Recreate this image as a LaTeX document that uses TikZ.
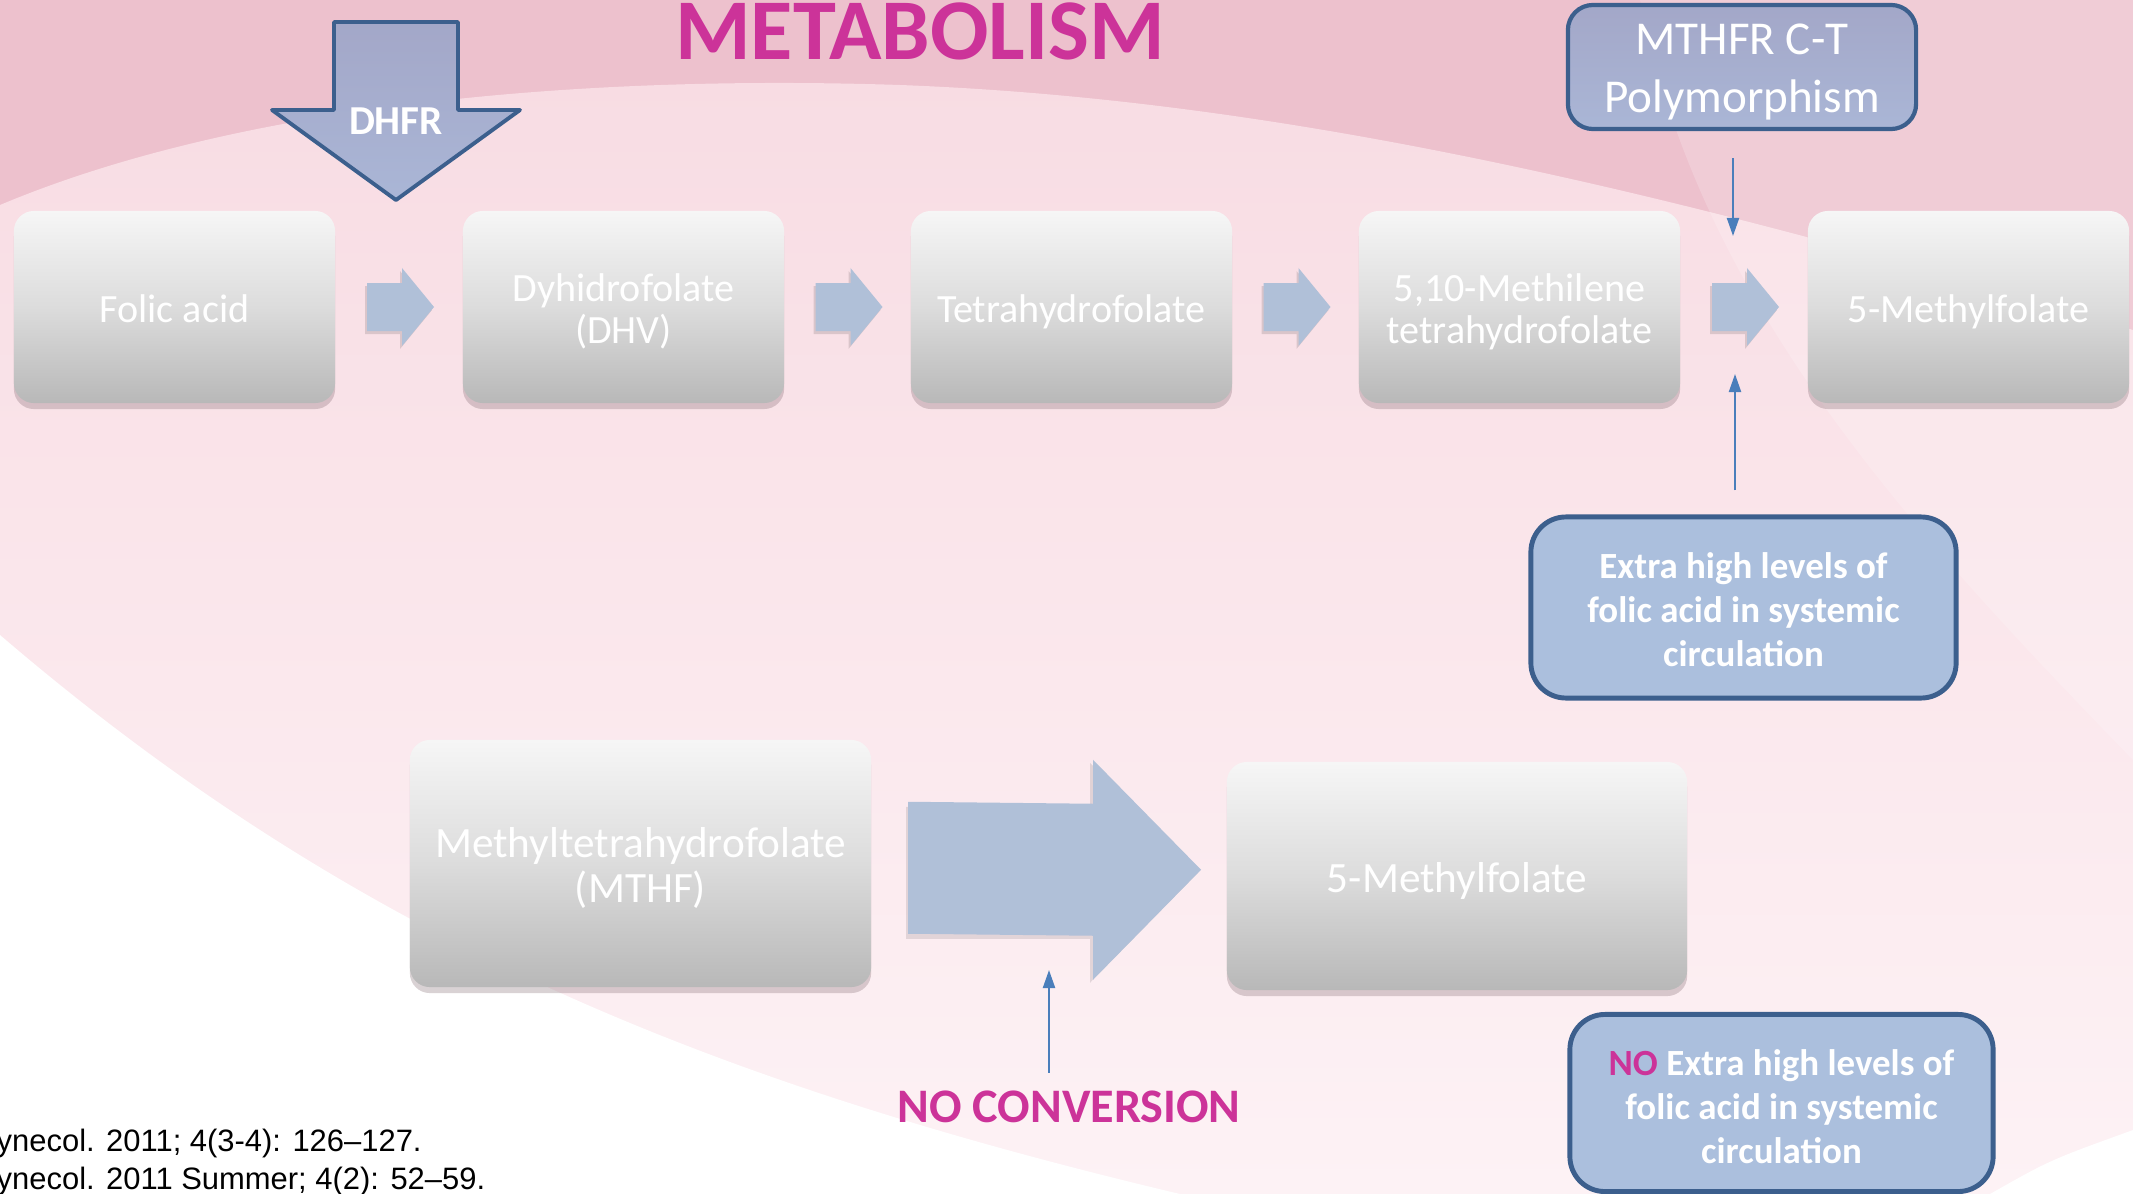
\documentclass[tikz,border=0pt]{standalone}
\usepackage{fontspec}
\setmainfont{Carlito}
\newfontfamily\arialf{Liberation Sans}
\usetikzlibrary{shadows,calc,arrows.meta}
\newcommand\tstr{\rule{0pt}{1.03\baselineskip}}
\newcommand\bstr{\rule[-0.3\baselineskip]{0pt}{0.3\baselineskip}}
\newcommand\sstr{\rule[-0.3\baselineskip]{0pt}{1.33\baselineskip}}
\definecolor{titlemag}{HTML}{CC3399}
\definecolor{pinkdark}{HTML}{EDC1CD}
\definecolor{pinkmid}{HTML}{F8DCE3}
\definecolor{pinklight}{HTML}{FDF2F5}
\definecolor{boxtop}{HTML}{F6F6F6}
\definecolor{boxmid}{HTML}{DCDCDC}
\definecolor{boxbot}{HTML}{B8B8B8}
\definecolor{arrfill}{HTML}{B0C0D8}
\definecolor{navy}{HTML}{3C5F8D}
\definecolor{lightblue}{HTML}{ABBFDD}
\definecolor{lavender}{HTML}{A3A7C8}
\definecolor{lavbot}{HTML}{AAB6D6}
\definecolor{linkblue}{HTML}{4A7EBB}
\tikzset{
  gbox/.style={rounded corners=0.2cm, top color=boxtop, bottom color=boxbot, middle color=boxmid,
    text=white, align=center, inner sep=0pt,
    drop shadow={shadow xshift=0cm, shadow yshift=-0.06cm, fill=black!45!pinkdark, opacity=0.3}},
  toptext/.style={font=\fontsize{11.4}{12}\selectfont},
  bottext/.style={font=\fontsize{12.3}{12.8}\selectfont},
  bluebox/.style={draw=navy, line width=1.4pt, fill=lightblue, rounded corners=0.35cm},
  bluetext/.style={text=white, align=center, inner sep=0pt, font=\bfseries\fontsize{10.5}{12.5}\selectfont},
  thinarrow/.style={draw=linkblue, line width=0.6pt, -{Triangle[length=0.18cm,width=0.12cm]}},
  blockarrow/.style={fill=arrfill},
  reftext/.style={font=\arialf\fontsize{8.8}{10}\selectfont, text=black, inner sep=0pt}
}
\begin{document}
\begin{tikzpicture}[x=0.01cm,y=-0.01cm]
\useasboundingbox (0,0) rectangle (2133,1194);
% background
\fill[pinkdark] (0,0) rectangle (2133,1194);
\shade[top color=pinkmid, bottom color=pinklight]
  (0,205) .. controls (250,100) and (600,75) .. (900,85)
  .. controls (1300,100) and (1700,200) .. (2133,330) -- (2133,1194) -- (0,1194) -- cycle;
\fill[white, opacity=0.18] (1640,0) -- (2133,0) -- (2133,760) .. controls (1900,520) and (1700,300) .. (1640,0) -- cycle;
\fill[white] (0,635) .. controls (350,935) and (700,1080) .. (1180,1194) -- (0,1194) -- cycle;
\fill[white] (1990,1194) .. controls (2050,1160) .. (2133,1130) -- (2133,1194) -- cycle;

% title
\node[anchor=base, inner sep=0pt, font=\bfseries\fontsize{24.6}{29}\selectfont, text=titlemag] (title) at (920,60) {METABOLISM};

% top row boxes
\node[gbox, toptext, minimum width=3.21cm, minimum height=1.92cm] (fa)  at (174.5,307) {\sstr Folic acid};
\node[gbox, toptext, minimum width=3.21cm, minimum height=1.92cm] (dhf) at (623.5,307) {\tstr Dyhidrofolate\\(DHV)\bstr};
\node[gbox, toptext, minimum width=3.21cm, minimum height=1.92cm] (thf) at (1071.5,307) {\sstr Tetrahydrofolate};
\node[gbox, toptext, minimum width=3.21cm, minimum height=1.92cm] (mth) at (1519.5,307) {\tstr 5,10-Methilene\\tetrahydrofolate\bstr};
\node[gbox, toptext, minimum width=3.21cm, minimum height=1.92cm] (mf)  at (1968.5,307) {\sstr 5-Methylfolate};

% small block arrows
\foreach \a/\b in {fa/dhf, dhf/thf, thf/mth, mth/mf}{
  \path ($(\a.east)!0.5!(\b.west)$) coordinate (m);
  \begin{scope}[shift={(m)}]
    \fill[black, opacity=0.12] (-34,-21) -- (1,-21) -- (1,-36) -- (33,3) -- (1,42) -- (1,27) -- (-34,27) -- cycle;
    \fill[blockarrow] (-32,-24) -- (3,-24) -- (3,-39) -- (35,0) -- (3,39) -- (3,24) -- (-32,24) -- cycle;
  \end{scope}
}

% DHFR arrow
\draw[navy, line width=1.1pt, line join=round, top color=lavender, bottom color=lavbot]
  (334,22) -- (458,22) -- (458,110) -- (520,110) -- (396,200) -- (272,110) -- (334,110) -- cycle;
\node[text=white, inner sep=0pt, font=\bfseries\fontsize{11.7}{14}\selectfont] (dhfrlbl) at (396,121) {DHFR};

% MTHFR box
\node[draw=navy, line width=1.2pt, top color=lavender, bottom color=lavbot, rounded corners=0.25cm,
  minimum width=3.48cm, minimum height=1.24cm, inner sep=0pt] (mthfr) at (1742,67) {};
\node[text=white, align=center, inner sep=0pt, font=\fontsize{13.4}{16.6}\selectfont]
  (mthfrlbl) at ([yshift=-0.05cm]mthfr.center) {MTHFR C-T\\Polymorphism};

% extra box
\node[bluebox, minimum width=4.25cm, minimum height=1.81cm, inner sep=0pt] (extra) at (1743.5,607.5) {};
\node[bluetext] (extralbl) at ([yshift=-0.02cm]extra.center)
  {Extra high levels of\\folic acid in systemic\\circulation};

% thin arrows top
\coordinate (mtip) at (1733,236);
\coordinate (etip) at (1735,374);
\draw[thinarrow, shorten <=0.27cm] (mthfr.south -| mtip) -- (mtip);
\draw[thinarrow, shorten <=0.24cm] (extra.north -| etip) -- (etip);

% bottom row
\node[gbox, bottext, minimum width=4.61cm, minimum height=2.47cm] (mthf) at (640.5,863.5) {\tstr Methyltetrahydrofolate\\(MTHF)\bstr};
\node[gbox, bottext, minimum width=4.60cm, minimum height=2.28cm] (mf2) at (1457,876) {\sstr 5-Methylfolate};

\path ($(mthf.east)!0.5!(mf2.west)$) coordinate (bm);
\begin{scope}[shift={(bm)}]
  \fill[black, opacity=0.10] (-143,-63) -- (41,-63) -- (41,-107) -- (149,3) -- (41,113) -- (41,69) -- (-143,69) -- cycle;
  \fill[blockarrow] (-141,-68) -- (44,-66) -- (44,-110) -- (152,0) -- (44,110) -- (44,66) -- (-141,64) -- cycle;
\end{scope}

% NO CONVERSION
\node[anchor=base, inner sep=0pt, font=\bfseries\fontsize{13.7}{16}\selectfont, text=titlemag] (noconv) at (1069,1122) {NO CONVERSION};
\coordinate (ntip) at (1049,970);
\draw[thinarrow, shorten <=0.17cm] (noconv.north -| ntip) -- (ntip);

% NO box
\node[bluebox, minimum width=4.23cm, minimum height=1.77cm, inner sep=0pt] (nobox) at (1781.5,1103) {};
\node[bluetext] (nolbl) at ([yshift=-0.04cm]nobox.center)
  {{\color{titlemag}NO} Extra high levels of\\folic acid in systemic\\circulation};

% references
\node[reftext, anchor=base west] (ref1) at (-4,1151) {ynecol. 2011; 4(3-4): 126–127.};
\node[reftext, anchor=base west] (ref2) at (-4,1189) {ynecol. 2011 Summer; 4(2): 52–59.};
\end{tikzpicture}
\end{document}
